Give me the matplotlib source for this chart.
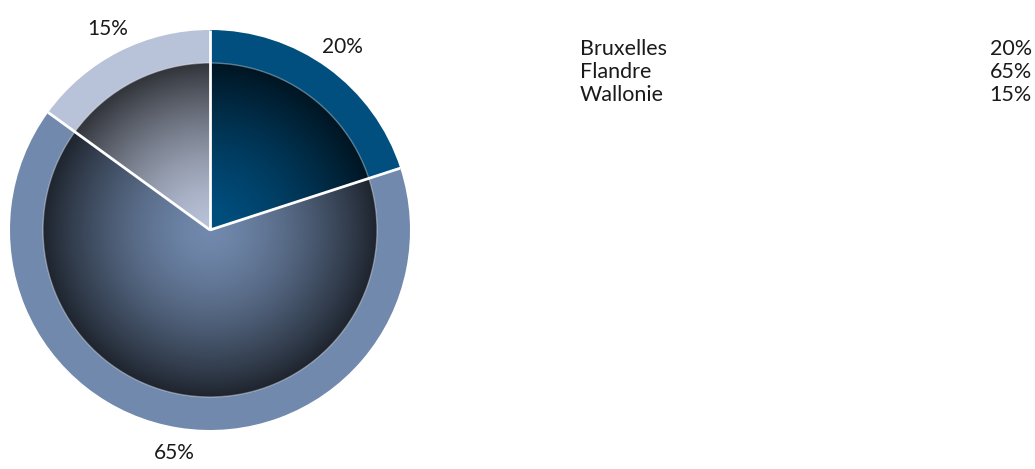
import numpy as np
import matplotlib
matplotlib.use("Agg")
import matplotlib.pyplot as plt
from matplotlib.patches import Wedge, Circle

regions = ["Bruxelles", "Flandre", "Wallonie"]
shares = [20, 65, 15]
pct_labels = ["20%", "65%", "15%"]
outer_colors = ["#004f7f", "#7189ad", "#b8c2d8"]

plt.rcParams['font.family'] = ['Lato', 'DejaVu Sans']

W, H = 1035, 469
fig = plt.figure(figsize=(W / 100, H / 100), dpi=100)
ax = fig.add_axes([0, 0, 1, 1])

cx, cy = 210, 239
R_out = 200
R_in = 167

wedges, texts = ax.pie(shares, colors=outer_colors, startangle=90, counterclock=False,
                       radius=R_out, center=(cx, cy), labels=pct_labels,
                       labeldistance=1.13, frame=True,
                       wedgeprops=dict(edgecolor='white', linewidth=0),
                       textprops=dict(fontsize=15, color='#1a1a1a'))
for t in texts:
    t.set_ha('center')
    t.set_va('center')

# inner shaded disc: radial gradient from slice colour to dark
n = 400
xs = np.linspace(-1, 1, n)
X, Y = np.meshgrid(xs, xs)
r = np.clip(np.sqrt(X ** 2 + Y ** 2), 0, 1)
shade = 1 - 0.73 * r ** 1.5
for w, col in zip(wedges, outer_colors):
    rgb = np.array(matplotlib.colors.to_rgb(col))
    img = shade[..., None] * rgb[None, None, :]
    im = ax.imshow(img, extent=(cx - R_in, cx + R_in, cy - R_in, cy + R_in),
                   origin='lower', zorder=2, interpolation='bilinear')
    clip = Wedge((cx, cy), R_in, w.theta1, w.theta2, transform=ax.transData)
    im.set_clip_path(clip)

ax.add_patch(Circle((cx, cy), R_in, facecolor='none', edgecolor=(1, 1, 1, 0.35),
                    linewidth=1, zorder=3))

# white separators
for w in wedges:
    a = np.deg2rad(w.theta1)
    ax.plot([cx, cx + R_out * np.cos(a)], [cy, cy + R_out * np.sin(a)],
            color='white', linewidth=2, zorder=4, solid_capstyle='butt')

ax.set_xlim(0, W)
ax.set_ylim(0, H)
ax.set_aspect('equal')
ax.axis('off')

# legend as text
for i, (name, lab) in enumerate(zip(regions, pct_labels)):
    y = H - (49 + 23 * i)
    ax.text(580, y, name, fontsize=15.5, color='#1a1a1a', ha='left', va='center')
    ax.text(1032, y, lab, fontsize=15.5, color='#1a1a1a', ha='right', va='center')

fig.savefig("out.png", dpi=100)
